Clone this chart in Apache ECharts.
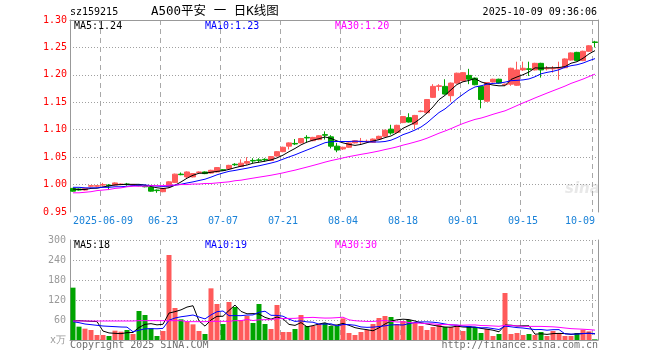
<!DOCTYPE html>
<html><head><meta charset="utf-8">
<script src="https://cdn.jsdelivr.net/npm/echarts@6/dist/echarts.min.js"></script>
<style>html,body{margin:0;padding:0;background:#fff}#c{width:660px;height:360px}</style>
</head><body><div id="c"></div><script>
const dates = ['2025-05-30','2025-06-03','2025-06-04','2025-06-05','2025-06-06',
'2025-06-09','2025-06-10','2025-06-11','2025-06-12','2025-06-13',
'2025-06-16','2025-06-17','2025-06-18','2025-06-19','2025-06-20',
'2025-06-23','2025-06-24','2025-06-25','2025-06-26','2025-06-27',
'2025-06-30','2025-07-01','2025-07-02','2025-07-03','2025-07-04',
'2025-07-07','2025-07-08','2025-07-09','2025-07-10','2025-07-11',
'2025-07-14','2025-07-15','2025-07-16','2025-07-17','2025-07-18',
'2025-07-21','2025-07-22','2025-07-23','2025-07-24','2025-07-25',
'2025-07-28','2025-07-29','2025-07-30','2025-07-31','2025-08-01',
'2025-08-04','2025-08-05','2025-08-06','2025-08-07','2025-08-08',
'2025-08-11','2025-08-12','2025-08-13','2025-08-14','2025-08-15',
'2025-08-18','2025-08-19','2025-08-20','2025-08-21','2025-08-22',
'2025-08-25','2025-08-26','2025-08-27','2025-08-28','2025-08-29',
'2025-09-01','2025-09-02','2025-09-03','2025-09-04','2025-09-05',
'2025-09-08','2025-09-09','2025-09-10','2025-09-11','2025-09-12',
'2025-09-15','2025-09-16','2025-09-17','2025-09-18','2025-09-19',
'2025-09-22','2025-09-23','2025-09-24','2025-09-25','2025-09-26',
'2025-09-29','2025-09-30','2025-10-09'];
const opens = [0.993,0.992,0.990,0.997,0.997,0.999,0.999,0.999,1.000,1.001,
0.999,0.999,0.997,0.995,0.990,0.987,0.996,1.004,1.019,1.014,
1.014,1.022,1.023,1.021,1.023,1.027,1.029,1.037,1.033,1.039,
1.044,1.045,1.046,1.044,1.052,1.060,1.070,1.075,1.076,1.086,
1.080,1.082,1.091,1.087,1.070,1.065,1.068,1.076,1.078,1.078,
1.077,1.083,1.088,1.101,1.095,1.113,1.122,1.110,1.133,1.131,
1.159,1.179,1.179,1.162,1.185,1.189,1.199,1.194,1.179,1.152,
1.187,1.192,1.182,1.183,1.181,1.209,1.211,1.209,1.221,1.211,
1.211,1.212,1.213,1.227,1.241,1.226,1.243,1.260];
const closes = [0.988,0.990,0.993,0.998,0.998,1.000,0.998,1.003,1.001,1.000,
1.000,0.998,0.996,0.988,0.989,0.993,1.005,1.019,1.018,1.023,
1.020,1.023,1.020,1.026,1.031,1.026,1.035,1.036,1.039,1.042,
1.043,1.044,1.045,1.051,1.060,1.068,1.076,1.074,1.084,1.085,
1.086,1.089,1.090,1.070,1.063,1.068,1.076,1.080,1.079,1.079,
1.083,1.088,1.099,1.094,1.108,1.124,1.114,1.126,1.134,1.155,
1.179,1.180,1.165,1.185,1.203,1.204,1.192,1.182,1.155,1.186,
1.192,1.185,1.183,1.212,1.209,1.212,1.210,1.221,1.209,1.212,
1.212,1.213,1.229,1.240,1.226,1.243,1.253,1.259];
const lows = [0.987,0.989,0.989,0.995,0.995,0.997,0.990,0.998,0.999,0.998,
0.998,0.997,0.995,0.987,0.985,0.986,0.994,1.003,1.017,1.012,
1.013,1.021,1.019,1.020,1.022,1.025,1.028,1.034,1.032,1.036,
1.039,1.040,1.042,1.043,1.051,1.059,1.064,1.072,1.075,1.077,
1.079,1.081,1.082,1.066,1.059,1.063,1.067,1.075,1.073,1.076,
1.076,1.082,1.087,1.091,1.094,1.112,1.113,1.101,1.132,1.130,
1.158,1.171,1.164,1.151,1.184,1.188,1.183,1.181,1.139,1.151,
1.186,1.184,1.181,1.180,1.180,1.207,1.198,1.208,1.195,1.208,
1.204,1.191,1.212,1.226,1.225,1.225,1.242,1.250];
const highs = [0.994,0.993,0.994,0.999,0.999,1.003,1.001,1.004,1.002,1.003,
1.001,1.000,0.998,0.996,0.991,0.994,1.006,1.020,1.022,1.024,
1.021,1.024,1.024,1.027,1.032,1.028,1.036,1.039,1.046,1.050,
1.048,1.048,1.048,1.052,1.061,1.069,1.077,1.083,1.085,1.090,
1.087,1.090,1.097,1.090,1.076,1.069,1.077,1.081,1.085,1.082,
1.084,1.089,1.100,1.109,1.109,1.125,1.130,1.127,1.135,1.156,
1.183,1.183,1.192,1.186,1.204,1.205,1.211,1.195,1.180,1.187,
1.193,1.193,1.184,1.213,1.224,1.224,1.224,1.222,1.222,1.216,
1.216,1.224,1.230,1.241,1.242,1.244,1.254,1.262];
const ma5 = [0.992,0.991,0.991,0.993,0.9934,0.9958,0.9974,0.9994,1.0000,1.0004,
1.0004,1.0004,0.9990,0.9964,0.9942,0.9928,0.9942,0.9988,1.0048,1.0116,
1.0170,1.0206,1.0208,1.0224,1.0240,1.0252,1.0276,1.0308,1.0334,1.0356,
1.0390,1.0408,1.0426,1.0450,1.0486,1.0536,1.0600,1.0658,1.0724,1.0774,
1.0810,1.0836,1.0868,1.0840,1.0796,1.0760,1.0734,1.0714,1.0732,1.0764,
1.0794,1.0818,1.0856,1.0886,1.0944,1.1026,1.1078,1.1132,1.1212,1.1306,
1.1416,1.1548,1.1626,1.1728,1.1824,1.1874,1.1898,1.1932,1.1872,1.1838,
1.1814,1.1800,1.1802,1.1916,1.1962,1.2002,1.2052,1.2128,1.2122,1.2128,
1.2128,1.2134,1.2150,1.2212,1.2240,1.2302,1.2382,1.2442];
const ma10 = [0.995,0.995,0.994,0.994,0.994,0.995,0.995,0.996,0.996,0.9969,
0.9981,0.9989,0.9992,0.9982,0.9973,0.9966,0.9973,0.9989,1.0006,1.0029,
1.0049,1.0074,1.0098,1.0136,1.0178,1.0211,1.0241,1.0258,1.0279,1.0298,
1.0321,1.0342,1.0367,1.0392,1.0421,1.0463,1.0504,1.0542,1.0587,1.0630,
1.0673,1.0718,1.0763,1.0782,1.0785,1.0785,1.0785,1.0791,1.0786,1.0780,
1.0777,1.0776,1.0785,1.0809,1.0854,1.0910,1.0948,1.0994,1.1049,1.1125,
1.1221,1.1313,1.1379,1.1470,1.1565,1.1645,1.1723,1.1779,1.1800,1.1831,
1.1844,1.1849,1.1867,1.1894,1.1900,1.1908,1.1926,1.1965,1.2019,1.2045,
1.2065,1.2093,1.2139,1.2167,1.2184,1.2215,1.2258,1.2296];
const ma30 = [0.985,0.985,0.986,0.987,0.989,0.990,0.991,0.993,0.994,0.996,
0.997,0.997,0.997,0.998,0.998,0.998,0.999,0.999,1.000,1.000,
1.001,1.001,1.002,1.002,1.003,1.004,1.005,1.007,1.008,1.0099,
1.0117,1.0135,1.0152,1.0170,1.0191,1.0213,1.0239,1.0263,1.0291,1.0319,
1.0348,1.0378,1.0409,1.0437,1.0461,1.0486,1.0510,1.0530,1.0551,1.0569,
1.0590,1.0612,1.0638,1.0661,1.0687,1.0719,1.0746,1.0776,1.0807,1.0845,
1.0890,1.0936,1.0976,1.1020,1.1068,1.1113,1.1152,1.1188,1.1212,1.1245,
1.1281,1.1313,1.1344,1.1391,1.1440,1.1488,1.1532,1.1579,1.1623,1.1667,
1.1710,1.1752,1.1795,1.1844,1.1883,1.1923,1.1969,1.2013];
const volumes = [157,40,34,30,15,15,12,28,25,30,
18,87,75,35,12,27,255,96,62,54,
47,27,18,155,108,48,114,99,60,72,
51,108,48,33,105,24,24,33,75,42,
42,48,51,42,42,65,21,15,24,30,
48,66,72,69,48,57,60,51,42,30,
39,45,39,39,45,27,42,39,21,33,
12,18,141,18,21,15,18,15,24,12,
27,21,12,12,21,31,26,2];
const vma5 = [57,58,57,56,55.2,26.8,21.2,20,19,22,
22.6,37.6,47,49,45.4,47.2,80.8,85,90.4,98.8,
102.8,57.2,41.6,60.2,71,71.2,88.6,104.8,85.8,78.6,
79.2,78,67.8,62.4,69,63.6,46.8,43.8,52.2,39.6,
43.2,48,51.6,45,45,49.6,44.2,37,33.4,31,
27.6,36.6,48,57,60.6,62.4,61.2,57,51.6,48,
44.4,41.4,39,38.4,41.4,39,38.4,38.4,34.8,32.4,
29.4,24.6,45,44.4,42,42.6,42.6,17.4,18.6,16.8,
19.2,19.8,19.2,16.8,18.6,19.4,20.4,18.4];
const vma10 = [55,52,48,46,44,42,41,40,39,38.6,
24.7,29.4,33.5,34,33.7,34.9,59.2,66,69.7,72.1,
75,69,63.3,75.3,84.9,87,72.9,73.2,73,74.8,
75.2,83.3,86.3,74.1,73.8,71.4,62.4,55.8,57.3,54.3,
53.4,47.4,47.7,48.6,42.3,46.4,46.1,44.3,39.2,38,
38.6,40.4,42.5,45.2,45.8,45,48.9,52.5,54.3,54.3,
53.4,51.3,48,45,44.7,41.7,39.9,38.7,36.6,36.9,
34.2,31.5,41.7,39.6,37.2,36,33.6,31.2,31.5,29.4,
30.9,31.2,18.3,17.7,17.7,19.3,20.1,18.8];
const vma30 = [57,57,57,57,57,57,57,57,57,57,
57,58,58,58,58,58,58,58,58,55,
55,55,55,56,56,56,56,58,58,61.8,
58.3,60.6,61.0,61.1,64.1,64.4,64.8,65,66.7,67.1,
67.9,66.6,65.8,66,67,68.3,60.5,57.8,56.5,55.7,
55.7,57,58.8,56,54,54.3,52.5,50.9,50.3,48.9,
48.5,46.4,46.1,46.3,44.3,44.4,45,45.2,43.4,43.1,
42.1,41.1,44.1,43.3,42.6,40.9,40.8,40.8,40.8,40.2,
39.5,38,36,34.1,33.2,32.3,31.2,29.6];
const xTickIndex = [5,15,25,35,45,55,65,75,87];
const xTickLabels = ['2025-06-09','06-23','07-07','07-21','08-04','08-18','09-01','09-15','10-09'];

const mono = '"DejaVu Sans Mono", "Liberation Mono", monospace';
const UP = '#ff5a5a', DOWN = '#00a400', GRIDC = '#a8a8a8', FRAME = '#999999';
const showTick = (idx) => xTickIndex.indexOf(idx) >= 0;
const tickLabel = (v, idx) => { const k = xTickIndex.indexOf(idx); return k >= 0 ? xTickLabels[k] : ''; };

const candleData = dates.map((d,i)=>[opens[i],closes[i],lows[i],highs[i]]);
const volData = volumes.map((v,i)=>({value:v,itemStyle:{color: closes[i] >= opens[i] ? UP : DOWN}}));

const chart = echarts.init(document.getElementById('c'), null, {renderer:'canvas'});
const frameX = (grid, pos) => ({type:'category', gridIndex:grid, data:dates, position:pos, boundaryGap:true,
  axisLine:{show:true, lineStyle:{color:FRAME, width:1}}, axisTick:{show:false}, axisLabel:{show:false}, splitLine:{show:false}});
const frameY = (grid, min, max) => ({type:'value', gridIndex:grid, position:'right', min:min, max:max,
  axisLine:{show:true, lineStyle:{color:FRAME}}, axisTick:{show:false}, axisLabel:{show:false}, splitLine:{show:false}});
const line = (xi, yi, data, color) => ({type:'line', xAxisIndex:xi, yAxisIndex:yi, data:data, symbol:'none',
  lineStyle:{color:color, width:1}, z:5});

chart.setOption({
  animation:false,
  backgroundColor:'#ffffff',
  grid:[{left:70, top:20, width:528, height:192},{left:70, top:240, width:528, height:100}],
  xAxis:[
    {type:'category', gridIndex:0, data:dates, boundaryGap:true,
     axisLine:{show:false}, axisTick:{show:false},
     axisLabel:{interval:showTick, formatter:tickLabel, color:'#1a82d8', fontFamily:mono, fontSize:10, margin:4, alignMaxLabel:'right'},
     splitLine:{show:true, interval:showTick, lineStyle:{color:GRIDC, type:[5,4], width:1}}},
    frameX(0,'top'),
    {type:'category', gridIndex:1, data:dates, boundaryGap:true,
     axisLine:{show:false}, axisTick:{show:false}, axisLabel:{show:false},
     splitLine:{show:true, interval:showTick, lineStyle:{color:GRIDC, type:[5,4], width:1}}},
    frameX(1,'top')
  ],
  yAxis:[
    {type:'value', gridIndex:0, min:0.95, max:1.30, interval:0.05,
     axisLine:{show:true, lineStyle:{color:FRAME}}, axisTick:{show:false},
     axisLabel:{color:'#ff0000', fontFamily:mono, fontSize:10, margin:3, formatter:v=>v.toFixed(2)},
     splitLine:{show:true, showMinLine:false, lineStyle:{color:'#a0a0a0', type:[1,2]}}},
    frameY(0,0.95,1.30),
    {type:'value', gridIndex:1, min:0, max:300, interval:60,
     axisLine:{show:true, lineStyle:{color:FRAME}}, axisTick:{show:false},
     axisLabel:{color:'#9a9a9a', fontFamily:mono, fontSize:10, margin:4, formatter:v=> v===0 ? 'x万' : String(v)},
     splitLine:{show:true, showMinLine:false, lineStyle:{color:'#a0a0a0', type:[1,2]}}},
    frameY(1,0,300)
  ],
  series:[
    {type:'candlestick', xAxisIndex:0, yAxisIndex:0, data:candleData, barWidth:5,
     itemStyle:{color:UP, color0:DOWN, borderColor:UP, borderColor0:DOWN, borderWidth:1}},
    line(0,0,ma5,'#000000'), line(0,0,ma10,'#0000ff'), line(0,0,ma30,'#ff00ff'),
    {type:'bar', xAxisIndex:2, yAxisIndex:2, data:volData, barWidth:5},
    line(2,2,vma5,'#000000'), line(2,2,vma10,'#0000ff'), line(2,2,vma30,'#ff00ff')
  ],
  graphic:[
    {type:'text', left:70, top:7, style:{text:'sz159215', font:'10px '+mono, fill:'#000'}},
    {type:'text', left:151, top:5, style:{text:'A500平安 一 日K线图', font:'12.5px "DejaVu Sans Mono", "Noto Sans CJK SC"', fill:'#000'}},
    {type:'text', right:63, top:7, style:{text:'2025-10-09 09:36:06', font:'10px '+mono, fill:'#000'}},
    {type:'text', left:74, top:21, style:{text:'MA5:1.24', font:'10px '+mono, fill:'#000'}},
    {type:'text', left:205, top:21, style:{text:'MA10:1.23', font:'10px '+mono, fill:'#0000ff'}},
    {type:'text', left:335, top:21, style:{text:'MA30:1.20', font:'10px '+mono, fill:'#ff00ff'}},
    {type:'text', left:74, top:240, style:{text:'MA5:18', font:'10px '+mono, fill:'#000'}},
    {type:'text', left:205, top:240, style:{text:'MA10:19', font:'10px '+mono, fill:'#0000ff'}},
    {type:'text', left:335, top:240, style:{text:'MA30:30', font:'10px '+mono, fill:'#ff00ff'}},
    {type:'text', left:565, top:182, style:{text:'sina', font:'italic bold 15px "DejaVu Sans"', fill:'#e8e8e8'}},
    {type:'text', left:70, top:340, style:{text:'Copyright 2025 SINA.COM', font:'10px '+mono, fill:'#707070'}},
    {type:'text', right:62, top:340, style:{text:'http://finance.sina.com.cn', font:'10px '+mono, fill:'#707070'}}
  ]
});
</script></body></html>
